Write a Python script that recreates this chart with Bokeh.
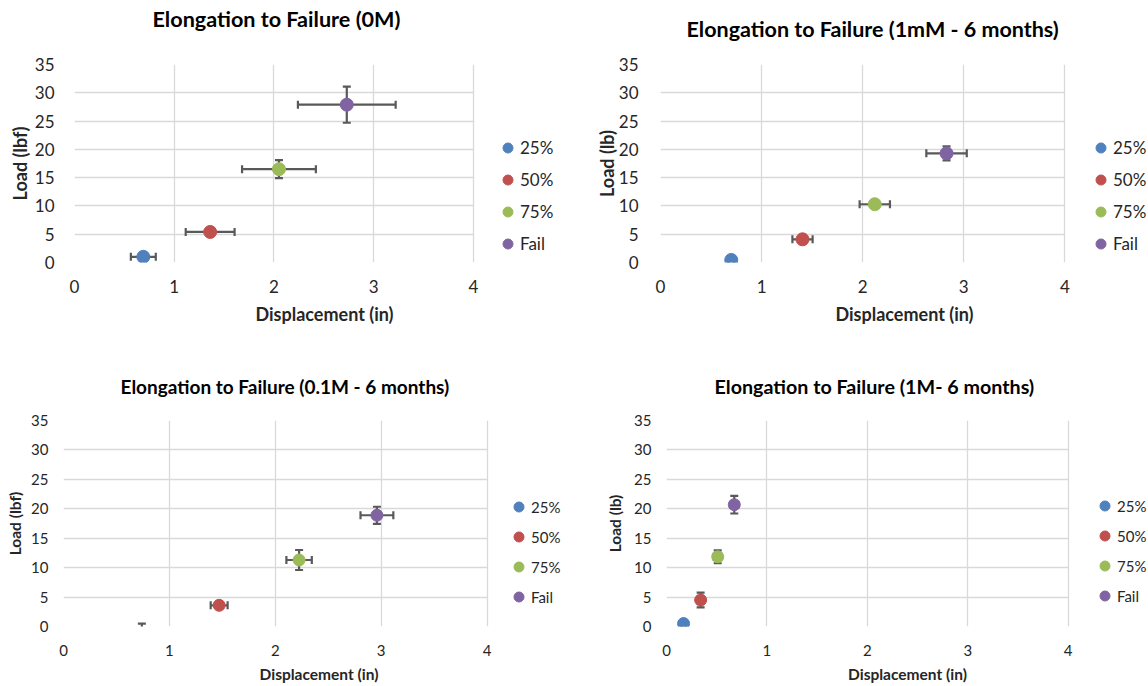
import math
from bokeh.plotting import figure
from bokeh.layouts import column, row
from bokeh.models import (ColumnDataSource, Range1d, FixedTicker, Legend, LegendItem, Title)
from bokeh.embed import file_html
from bokeh.resources import INLINE

# ---------------- data ----------------
series = ["25%", "50%", "75%", "Fail"]
colors = ["#4F81BD", "#C0504D", "#9BBB59", "#8064A2"]

x_ticks = [0, 1, 2, 3, 4]
y_ticks = [0, 5, 10, 15, 20, 25, 30, 35]

# Panel 1: 0M
disp_0M = [0.69, 1.36, 2.05, 2.73]
load_0M = [1.0, 5.4, 16.5, 27.9]
dx_0M = [0.125, 0.245, 0.37, 0.49]
dy_0M = [0.3, 0.4, 1.6, 3.2]

# Panel 2: 1mM - 6 months
disp_1mM = [0.70, 1.405, 2.12, 2.83]
load_1mM = [0.45, 4.1, 10.3, 19.3]
dx_1mM = [0.03, 0.10, 0.15, 0.20]
dy_1mM = [0.2, 0.4, 0.6, 1.25]

# Panel 3: 0.1M - 6 months
disp_01M = [0.74, 1.47, 2.225, 2.96]
load_01M = [-1.6, 3.6, 11.3, 18.9]
dx_01M = [0.05, 0.08, 0.12, 0.155]
dy_01M = [2.1, 0.5, 1.7, 1.45]

# Panel 4: 1M - 6 months
disp_1M = [0.17, 0.34, 0.51, 0.675]
load_1M = [0.5, 4.5, 11.85, 20.7]
dx_1M = [0.02, 0.03, 0.04, 0.04]
dy_1M = [0.3, 1.25, 1.1, 1.5]

FONT = "Lato"
ERR = "#595959"
GRID = "#D9D9D9"


def make_panel(title, xs, ys, dxs, dys, ylabel, g):
    p = figure(width=574, height=343, output_backend="svg", toolbar_location=None,
               x_range=Range1d(0, g["xend"]), y_range=Range1d(0, 35),
               min_border_left=g["bl"], min_border_right=0,
               min_border_top=g["bt"], min_border_bottom=g["bb"])
    # spacer + title stacked above the frame
    p.add_layout(Title(text=" ", text_font_size="1px", standoff=g["tso"]), "above")
    p.add_layout(Title(text=title, align="left", offset=g["toff"], standoff=0,
                       text_font=FONT, text_font_style="bold",
                       text_font_size=g["tfs"], text_color="#000000"), "above")

    p.outline_line_color = None
    p.background_fill_color = "white"
    p.border_fill_color = "white"

    for ax in (p.xaxis[0], p.yaxis[0]):
        ax.axis_line_color = None
        ax.major_tick_line_color = None
        ax.minor_tick_line_color = None
        ax.major_label_text_font = FONT
        ax.major_label_text_font_size = g["fs"]
        ax.major_label_text_color = "#262626"
        ax.axis_label_text_font = FONT
        ax.axis_label_text_font_style = "bold"
        ax.axis_label_text_font_size = g["afs"]
        ax.axis_label_text_color = "#262626"
    p.xaxis.ticker = FixedTicker(ticks=x_ticks)
    p.yaxis.ticker = FixedTicker(ticks=y_ticks)
    p.xaxis.bounds = (x_ticks[0], x_ticks[-1])
    p.xaxis.axis_label = "Displacement (in)"
    p.yaxis.axis_label = ylabel
    p.xaxis.major_label_standoff = g["xls"]
    p.xaxis.axis_label_standoff = g["xas"]
    p.yaxis.major_label_standoff = g["yls"]
    p.yaxis.axis_label_standoff = g["yas"]
    p.yaxis.major_label_orientation = "horizontal"

    p.xgrid.grid_line_color = GRID
    p.ygrid.grid_line_color = GRID
    p.xgrid.grid_line_width = 1.3
    p.ygrid.grid_line_width = 1.3
    p.ygrid.cross_bounds = (x_ticks[0], x_ticks[-1])

    # error bars
    xe = [(x, y, d) for x, y, d in zip(xs, ys, dxs) if d > 0]
    ye = [(x, y, d) for x, y, d in zip(xs, ys, dys) if d > 0]
    if xe:
        p.segment(x0=[x - d for x, y, d in xe], y0=[y for x, y, d in xe],
                  x1=[x + d for x, y, d in xe], y1=[y for x, y, d in xe],
                  line_color=ERR, line_width=2.2)
        capx = [x - d for x, y, d in xe] + [x + d for x, y, d in xe]
        capy = [y for x, y, d in xe] * 2
        p.scatter(x=capx, y=capy, marker="dash", size=8, angle=math.pi / 2,
                  line_color=ERR, line_width=2.2)
    if ye:
        p.segment(x0=[x for x, y, d in ye], y0=[y - d for x, y, d in ye],
                  x1=[x for x, y, d in ye], y1=[y + d for x, y, d in ye],
                  line_color=ERR, line_width=2.2)
        capx = [x for x, y, d in ye] * 2
        capy = [y - d for x, y, d in ye] + [y + d for x, y, d in ye]
        p.scatter(x=capx, y=capy, marker="dash", size=8,
                  line_color=ERR, line_width=2.2)

    src = ColumnDataSource(dict(x=xs, y=ys, c=colors, name=series))
    r = p.scatter("x", "y", source=src, size=g["ms"], fill_color="c", line_color="c")

    items = [LegendItem(label=s, renderers=[r], index=i) for i, s in enumerate(series)]
    leg = Legend(items=items, location=g["lloc"], padding=0, margin=0,
                 border_line_color=None, background_fill_alpha=0,
                 glyph_width=25, glyph_height=25, label_height=20,
                 label_standoff=g["lso"], spacing=g["lsp"],
                 label_text_font=FONT, label_text_font_size=g["lfs"],
                 label_text_color="#262626")
    p.add_layout(leg, "center")
    return p


g1 = dict(xend=5.013, bl=74, bt=64, bb=81, tfs="21.6px", tso=30, toff=78,
          fs="17px", afs="18px", lfs="17px",
          xls=11, xas=7, yls=14, yas=1, ms=13, lloc=(421, 6), lsp=7, lso=-8)
g2 = dict(xend=4.828, bl=86, bt=64, bb=81, tfs="21.5px", tso=20, toff=26,
          fs="17px", afs="18px", lfs="17px",
          xls=11, xas=7, yls=16, yas=-2, ms=13, lloc=(428, 6), lsp=7, lso=-8)
g3 = dict(xend=4.826, bl=63, bt=76, bb=59, tfs="19px", tso=20, toff=57,
          fs="15px", afs="15.5px", lfs="15px",
          xls=12, xas=6, yls=9, yas=4, ms=12, lloc=(443, 17), lsp=5, lso=-7)
g4 = dict(xend=4.80, bl=92, bt=77, bb=60, tfs="19.7px", tso=20, toff=48,
          fs="15px", afs="15.5px", lfs="15px",
          xls=12, xas=6, yls=9, yas=7, ms=12, lloc=(426, 18), lsp=5, lso=-9)

p1 = make_panel("Elongation to Failure (0M)", disp_0M, load_0M, dx_0M, dy_0M, "Load (lbf)", g1)
p2 = make_panel("Elongation to Failure (1mM - 6 months)", disp_1mM, load_1mM, dx_1mM, dy_1mM, "Load (lb)", g2)
p3 = make_panel("Elongation to Failure (0.1M - 6 months)", disp_01M, load_01M, dx_01M, dy_01M, "Load (lbf)", g3)
p4 = make_panel("Elongation to Failure (1M- 6 months)", disp_1M, load_1M, dx_1M, dy_1M, "Load (lb)", g4)

layout = column(row(p1, p2), row(p3, p4))
open("out.html", "w").write(file_html(layout, INLINE))
